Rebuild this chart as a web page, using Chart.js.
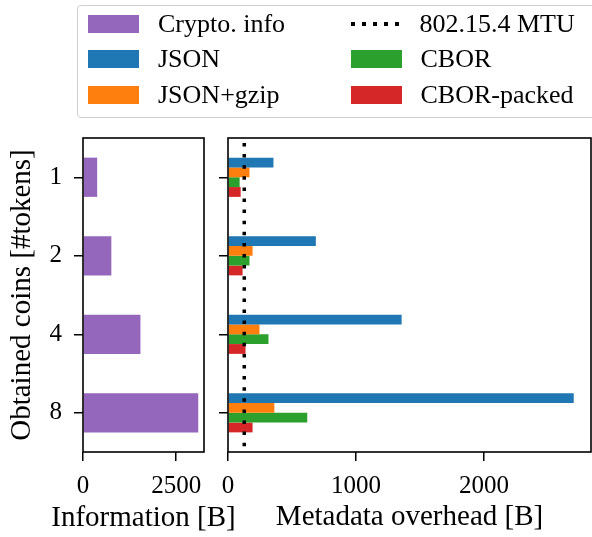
<!DOCTYPE html>
<html>
<head>
<meta charset="utf-8">
<script src="https://cdn.jsdelivr.net/npm/chart.js@4.4.0/dist/chart.umd.min.js"></script>
<style>
  body { margin: 0; background: #fff; width: 592px; height: 537px; overflow: hidden; position: relative; font-family: "Liberation Serif", serif; }
  canvas { position: absolute; top: 0; }
  #legend { position: absolute; left: 77px; top: 5px; width: 540px; height: 113px; border: 1.5px solid #cfcfcf; border-radius: 4px; box-sizing: border-box; background: #fff; }
  .item { position: absolute; height: 36px; display: flex; align-items: center; font-size: 26px; color: #000; white-space: nowrap; }
  .swatch { width: 51px; height: 18px; margin-right: 19px; }
  .dots { width: 50px; height: 4px; margin-right: 19px; background: repeating-linear-gradient(to right, #000 0 4px, transparent 4px 11px); }
</style>
</head>
<body>
<canvas id="infoChart" width="260" height="537" style="left:0"></canvas>
<canvas id="overheadChart" width="377" height="537" style="left:215px"></canvas>
<div id="legend"></div>
<script>
// data
const coins = ['1', '2', '4', '8'];
const cryptoInfo = [380, 760, 1540, 3090];
const jsonSize = [355, 686, 1356, 2700];
const jsonGzip = [168, 192, 246, 362];
const cborSize = [91, 168, 316, 619];
const cborPacked = [99, 114, 137, 192];
const mtu = 127;
const infoTicks = [0, 2500];
const overheadTicks = [0, 1000, 2000];

const colors = {
    purple: '#9467bd',
    blue: '#1f77b4',
    orange: '#ff7f0e',
    green: '#2ca02c',
    red: '#d62728'
};

const serif = '"Liberation Serif", serif';
const tickFont = { family: serif, size: 25 };
const titleFont = { family: serif, size: 29 };

// full frame round the plot area (matplotlib spines)
const frame = {
    id: 'frame',
    afterDraw(chart) {
        const { ctx, chartArea: a } = chart;
        ctx.save();
        ctx.strokeStyle = '#000';
        ctx.lineWidth = 1.6;
        ctx.strokeRect(a.left, a.top, a.right - a.left, a.bottom - a.top);
        ctx.restore();
    }
};

// dotted 802.15.4 MTU line
const mtuLine = {
    id: 'mtuLine',
    afterDatasetsDraw(chart) {
        const { ctx, chartArea: a } = chart;
        const x = chart.scales.x.getPixelForValue(mtu);
        ctx.save();
        ctx.strokeStyle = '#000';
        ctx.lineWidth = 3.5;
        ctx.setLineDash([3.5, 7.6]);
        ctx.lineDashOffset = -5;
        ctx.beginPath();
        ctx.moveTo(x, a.top);
        ctx.lineTo(x, a.bottom);
        ctx.stroke();
        ctx.restore();
    }
};

// x title drawn without the scale-width squeeze chart.js applies
const infoTitle = {
    id: 'infoTitle',
    afterDraw(chart) {
        const { ctx, chartArea: a } = chart;
        ctx.save();
        ctx.fillStyle = '#000';
        ctx.font = titleFont.size + 'px ' + serif;
        ctx.textAlign = 'center';
        ctx.textBaseline = 'middle';
        ctx.fillText('Information [B]', (a.left + a.right) / 2, 518);
        ctx.restore();
    }
};

function xAxis(max, ticks, title) {
    return {
        type: 'linear',
        min: 0,
        max: max,
        afterBuildTicks: s => { s.ticks = ticks.map(v => ({ value: v })); },
        afterFit: s => { s.height = 85; s.paddingLeft = 0; s.paddingRight = 0; },
        grid: { drawOnChartArea: false, tickLength: 9, color: '#000', lineWidth: 1.5 },
        border: { display: false },
        ticks: { color: '#000', font: tickFont, padding: 10, maxRotation: 0, callback: v => String(v) },
        title: { display: !!title, text: title, color: '#000', font: titleFont, padding: { top: 0, bottom: 2 } }
    };
}

function yAxis(width, showLabels) {
    return {
        type: 'category',
        afterFit: s => { s.width = width; },
        grid: { drawOnChartArea: false, offset: false, tickLength: 9, color: '#000', lineWidth: 1.5 },
        border: { display: false },
        ticks: {
            color: '#000', font: tickFont, padding: 12,
            callback: function (v) { return showLabels ? this.getLabelForValue(v) : ''; }
        },
        title: {
            display: showLabels, text: 'Obtained coins [#tokens]', color: '#000', font: titleFont,
            padding: { top: 5, bottom: 0 }
        }
    };
}

const baseOptions = {
    responsive: false,
    animation: false,
    devicePixelRatio: 1,
    indexAxis: 'y',
    plugins: { legend: { display: false }, tooltip: { enabled: false } }
};

new Chart(document.getElementById('infoChart'), {
    type: 'bar',
    data: {
        labels: coins,
        datasets: [{ label: 'Crypto. info', data: cryptoInfo, backgroundColor: colors.purple, categoryPercentage: 0.5, barPercentage: 1 }]
    },
    options: {
        ...baseOptions,
        layout: { padding: { top: 138, right: 56, left: 0, bottom: 0 } },
        scales: {
            x: xAxis(Math.max(...cryptoInfo) * 1.05, infoTicks, ''),
            y: yAxis(83, true)
        }
    },
    plugins: [frame, infoTitle]
});

const overheadSeries = [
    { label: 'JSON', data: jsonSize, color: colors.blue },
    { label: 'JSON+gzip', data: jsonGzip, color: colors.orange },
    { label: 'CBOR', data: cborSize, color: colors.green },
    { label: 'CBOR-packed', data: cborPacked, color: colors.red }
];

new Chart(document.getElementById('overheadChart'), {
    type: 'bar',
    data: {
        labels: coins,
        datasets: overheadSeries.map(s => ({
            label: s.label, data: s.data, backgroundColor: s.color,
            categoryPercentage: 0.5, barPercentage: 1
        }))
    },
    options: {
        ...baseOptions,
        layout: { padding: { top: 138, right: 1, left: 0, bottom: 0 } },
        scales: {
            x: xAxis(Math.max(...jsonSize) * 1.05, overheadTicks, 'Metadata overhead [B]'),
            y: yAxis(13, false)
        }
    },
    plugins: [mtuLine, frame]
});

// legend (two columns, matplotlib style)
const legendItems = [
    { text: 'Crypto. info', color: colors.purple, col: 0, row: 0 },
    { text: 'JSON', color: colors.blue, col: 0, row: 1 },
    { text: 'JSON+gzip', color: colors.orange, col: 0, row: 2 },
    { text: '802.15.4 MTU', dotted: true, col: 1, row: 0 },
    { text: 'CBOR', color: colors.green, col: 1, row: 1 },
    { text: 'CBOR-packed', color: colors.red, col: 1, row: 2 }
];
const legend = document.getElementById('legend');
const colLeft = [10, 272.5];
const rowTop = [-0.5, 34.5, 70.5];
legendItems.forEach(it => {
    const el = document.createElement('div');
    el.className = 'item';
    el.style.left = colLeft[it.col] + 'px';
    el.style.top = rowTop[it.row] + 'px';
    const mark = document.createElement('div');
    if (it.dotted) {
        mark.className = 'dots';
    } else {
        mark.className = 'swatch';
        mark.style.background = it.color;
    }
    el.appendChild(mark);
    el.appendChild(document.createTextNode(it.text));
    legend.appendChild(el);
});
</script>
</body>
</html>
